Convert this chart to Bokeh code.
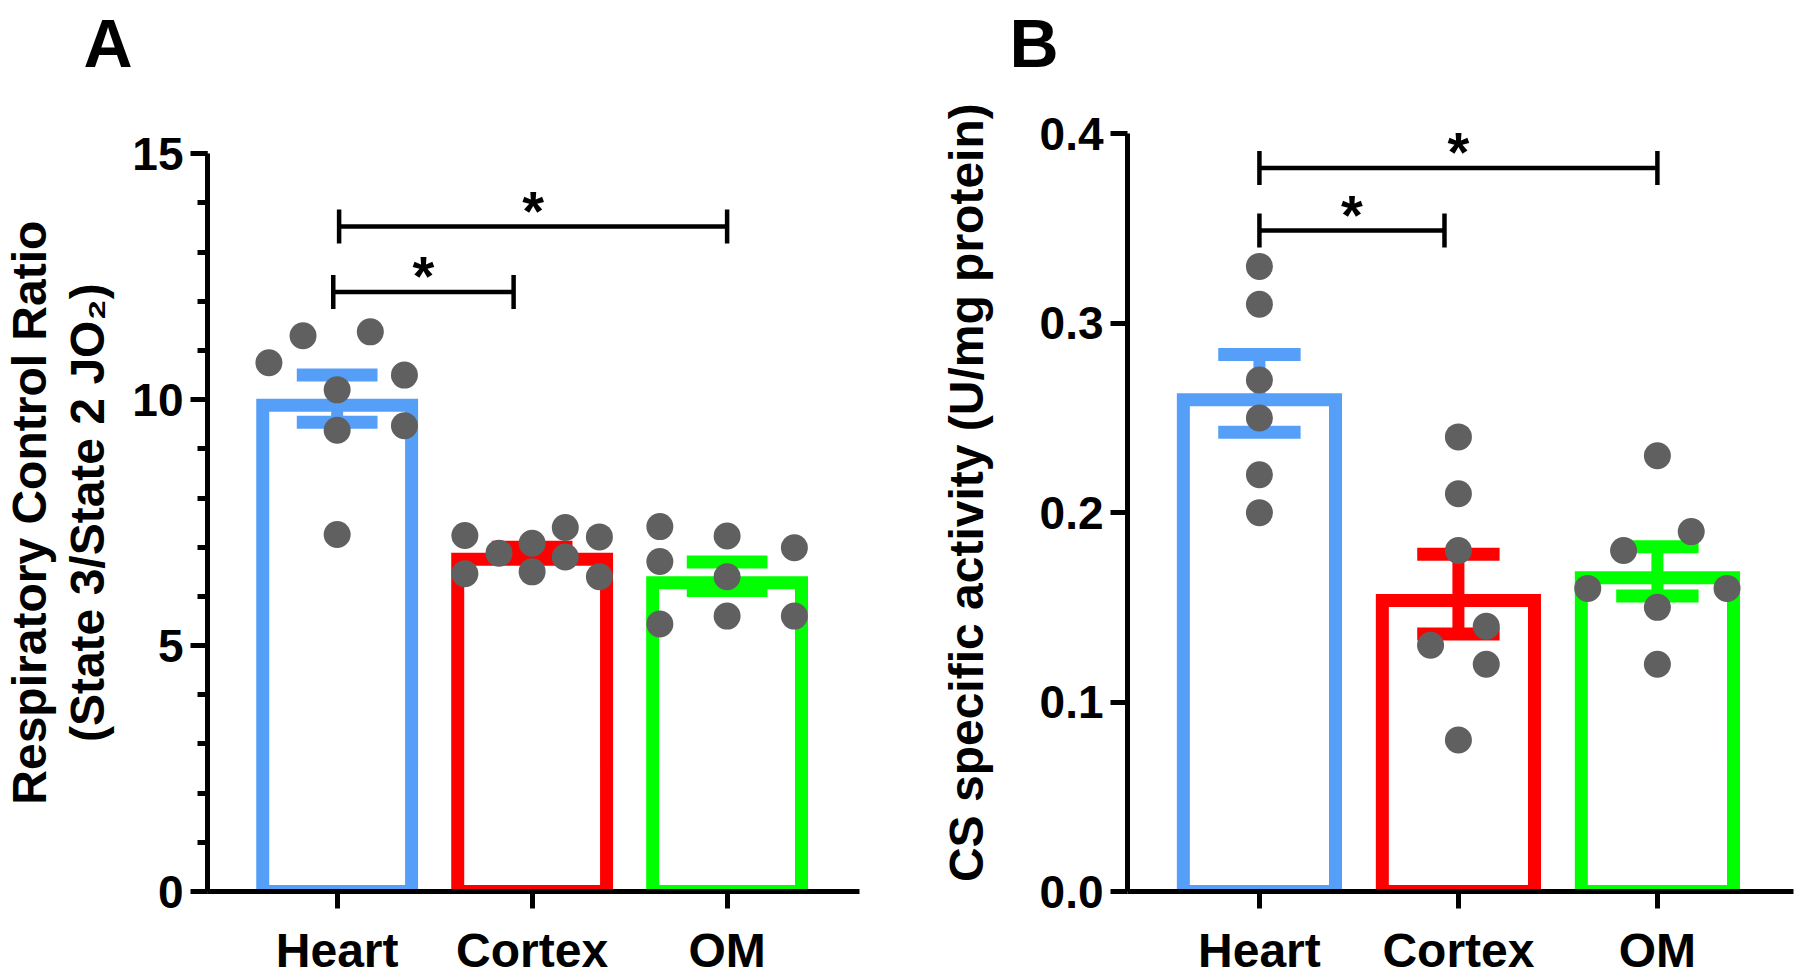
from bokeh.plotting import figure
from bokeh.layouts import row
from bokeh.models import Range1d, FixedTicker, Label, PrintfTickFormatter
from bokeh.embed import file_html
from bokeh.resources import INLINE

# ---------------- data ----------------
categories = ["Heart", "Cortex", "OM"]

# Panel A: Respiratory Control Ratio (individual values, means, SEM)
rcr_heart = [10.75, 11.30, 11.38, 10.50, 10.20, 9.38, 9.47, 7.26]
rcr_cortex = [7.24, 6.88, 7.08, 7.40, 7.21, 6.46, 6.50, 6.80, 6.40]
rcr_om = [7.42, 6.71, 5.44, 7.23, 6.40, 5.60, 6.99, 5.60]
rcr_mean = [10.02, 6.89, 6.41]
rcr_sem = [0.48, 0.11, 0.29]

# Panel B: CS specific activity (U/mg protein)
cs_heart = [0.33, 0.31, 0.27, 0.25, 0.22, 0.20]
cs_cortex = [0.24, 0.21, 0.18, 0.14, 0.13, 0.12, 0.08]
cs_om = [0.23, 0.19, 0.18, 0.16, 0.16, 0.15, 0.12]
cs_mean = [0.263, 0.157, 0.169]
cs_sem = [0.0205, 0.021, 0.013]

yticks_a = [0, 5, 10, 15]
yminor_a = list(range(0, 16))
yticks_b = [0.0, 0.1, 0.2, 0.3, 0.4]

# significance comparisons: (group from, group to), label, bracket height
sig_pairs = [(0, 1), (0, 2)]
sig_text = ["*", "*"]
sig_y_a = [12.19, 13.52]
sig_y_b = [0.349, 0.382]

# ---------------- layout / style (not data) ----------------
jit_rcr = [
    [-0.35, -0.175, 0.17, 0.345, 0.0, 0.0, 0.345, 0.0],
    [-0.345, -0.17, 0.0, 0.17, 0.345, -0.345, 0.0, 0.17, 0.345],
    [-0.345, -0.345, -0.345, 0.0, 0.0, 0.0, 0.345, 0.345],
]
jit_cs = [
    [0.0, 0.0, 0.0, 0.0, 0.0, 0.0],
    [0.0, 0.0, 0.0, 0.14, -0.14, 0.14, 0.0],
    [0.0, 0.17, -0.17, -0.35, 0.35, 0.0, 0.0],
]
sig_dx_a = [(-0.02, -0.095), (0.01, 0.0)]
sig_dx_b = [(0.0, -0.07), (0.0, 0.0)]

COLORS = ["#569FF9", "#FF0000", "#00FF00"]
DOT = "#606060"
FONT = "Liberation Sans"
TOP = 80          # top border (holds the panel letter)
BOTTOM = 87       # bottom border (category labels)
FRAME_H = 811     # frame height, identical for both panels
AXIS_ZERO_PX = TOP + FRAME_H   # page y of the value 0
NBSP = "\u00a0"


def make_panel(letter, letter_offset, groups, jitters, means, sems,
               y_top, axis_top_px, yticks, yminor, fmt, ylabel, ylabel_size,
               ylabel_standoff, sig_y, sig_dx, frame_w, b_left, b_right,
               x_start, x_end):
    ppu_y = (AXIS_ZERO_PX - axis_top_px) / y_top
    y_end = FRAME_H / ppu_y
    p = figure(frame_width=frame_w, frame_height=FRAME_H,
               x_range=Range1d(x_start, x_end), y_range=Range1d(0, y_end),
               min_border_left=b_left, min_border_right=b_right,
               min_border_top=TOP, min_border_bottom=BOTTOM,
               output_backend="svg", toolbar_location=None)
    p.outline_line_color = None
    p.grid.visible = False
    p.background_fill_color = "white"
    p.border_fill_color = "white"

    # panel letter as the title
    p.title.text = letter
    p.title.align = "left"
    p.title.offset = letter_offset
    p.title.standoff = 0
    p.title.text_font = FONT
    p.title.text_font_style = "bold"
    p.title.text_font_size = "68px"
    p.title.text_color = "black"

    ppu_x = frame_w / (x_end - x_start)
    xs = [i + 0.5 for i in range(len(categories))]

    # bars: outline drawn inside the bar's outer edge
    lw = 13
    p.vbar(x=xs, width=0.83 - lw / ppu_x,
           top=[m - lw / 2 / ppu_y for m in means],
           bottom=-0.05 * y_end, fill_color="white", line_color=COLORS,
           line_width=lw, line_join="miter")

    # error bars (SEM)
    cap = 0.207
    p.segment(x0=xs, x1=xs, y0=[m - s for m, s in zip(means, sems)],
              y1=[m + s for m, s in zip(means, sems)], line_color=COLORS,
              line_width=12)
    for sign in (-1, 1):
        p.segment(x0=[x - cap for x in xs], x1=[x + cap for x in xs],
                  y0=[m + sign * s for m, s in zip(means, sems)],
                  y1=[m + sign * s for m, s in zip(means, sems)],
                  line_color=COLORS, line_width=13)

    # individual points
    for i, (vals, jit) in enumerate(zip(groups, jitters)):
        p.scatter(x=[xs[i] + d for d in jit], y=vals, size=27,
                  fill_color=DOT, line_color=None)

    # significance brackets
    tick_h = 17 / ppu_y
    for (a, b), (da, db), yv, txt in zip(sig_pairs, sig_dx, sig_y, sig_text):
        x0 = xs[a] + da
        x1 = xs[b] + db
        p.segment(x0=[x0, x0, x1], x1=[x1, x0, x1],
                  y0=[yv, yv - tick_h, yv - tick_h], y1=[yv, yv + tick_h, yv + tick_h],
                  line_color="black", line_width=4.5)
        p.add_layout(Label(x=(x0 + x1) / 2, y=yv + 16 / ppu_y, text=txt,
                           text_align="center", text_baseline="alphabetic",
                           text_font=FONT, text_font_style="bold",
                           text_font_size="56px", text_color="black"))

    # axes
    for ax in (p.xaxis[0], p.yaxis[0]):
        ax.axis_line_width = 5
        ax.axis_line_color = "black"
        ax.major_tick_line_width = 5
        ax.major_tick_line_color = "black"
        ax.major_tick_out = 17
        ax.major_tick_in = 0
        ax.minor_tick_line_width = 5
        ax.minor_tick_line_color = "black"
        ax.minor_tick_out = 10
        ax.minor_tick_in = 0
        ax.major_label_text_font = FONT
        ax.major_label_text_font_style = "bold"
        ax.major_label_text_color = "black"

    p.xaxis.ticker = FixedTicker(ticks=xs, minor_ticks=[])
    p.xaxis.major_label_overrides = {x: c for x, c in zip(xs, categories)}
    p.xaxis.major_label_text_font_size = "48px"
    p.xaxis.major_label_standoff = 15

    p.yaxis.bounds = (0, y_top)
    p.yaxis.ticker = FixedTicker(ticks=yticks, minor_ticks=yminor)
    p.yaxis.formatter = PrintfTickFormatter(format=fmt)
    p.yaxis.major_label_text_font_size = "46px"
    p.yaxis.major_label_standoff = 7
    p.yaxis.axis_label = ylabel
    p.yaxis.axis_label_text_font = FONT
    p.yaxis.axis_label_text_font_style = "bold"
    p.yaxis.axis_label_text_font_size = ylabel_size
    p.yaxis.axis_label_text_color = "black"
    p.yaxis.axis_label_text_line_height = 1.1
    p.yaxis.axis_label_standoff = ylabel_standoff
    return p


# trailing no-break spaces nudge the centred y-axis titles down the frame
ylabel_a = ("Respiratory Control Ratio" + NBSP * 4 + "\n"
            + "(State 3/State 2 JO\u2082)" + NBSP * 4)
ylabel_b = "CS specific activity (U/mg protein)" + NBSP

pA = make_panel("A", -124, [rcr_heart, rcr_cortex, rcr_om], jit_rcr,
                rcr_mean, rcr_sem, 15, 153.3, yticks_a, yminor_a, "%d",
                ylabel_a, "48px", 15,
                sig_y_a, sig_dx_a, 652, 207, 41, -0.165, 3.179)

pB = make_panel("B", -118, [cs_heart, cs_cortex, cs_om], jit_cs,
                cs_mean, cs_sem, 0.4, 133.3, yticks_b, [], "%.1f",
                ylabel_b, "48px", 44,
                sig_y_b, sig_dx_b, 666, 227, 7, -0.163, 3.184)

layout = row(pA, pB)
open("out.html", "w").write(file_html(layout, INLINE))
